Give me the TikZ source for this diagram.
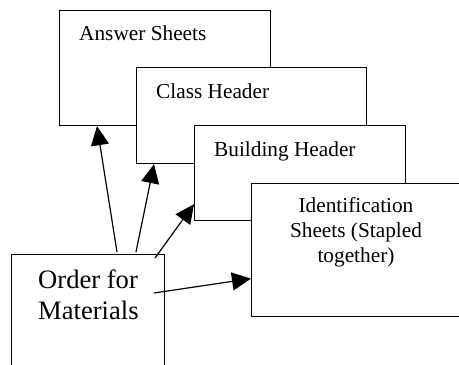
\documentclass[tikz,border=0pt]{standalone}
\usepackage{fontspec}
\setmainfont{Liberation Serif}
\usetikzlibrary{arrows.meta}
\begin{document}
\begin{tikzpicture}[x=1pt,y=-1pt,
  sheet/.style={draw,fill=white,line width=1.2pt,anchor=north west,inner sep=0pt},
  lbl/.style={inner sep=0pt,font=\fontsize{21.3}{25}\selectfont},
  biglbl/.style={inner sep=0pt,font=\fontsize{26.6}{31}\selectfont},
  link/.style={line width=1.2pt,-{Triangle[length=19pt,width=18pt]}}]
\useasboundingbox (0,0) rectangle (459,365);
\clip (0,0) rectangle (459,365);
\node[sheet,minimum width=211pt,minimum height=115pt] (a) at (59,10) {};
\node[lbl,anchor=base west] (ta) at (79,40) {Answer Sheets};
\node[sheet,minimum width=230pt,minimum height=96pt] (c) at (136,67) {};
\node[lbl,anchor=base west] (tc) at (156,98) {Class Header};
\node[sheet,minimum width=211pt,minimum height=95pt] (b) at (194,125) {};
\node[lbl,anchor=base west] (tb) at (214,156) {Building Header};
\node[sheet,minimum width=260pt,minimum height=133pt] (i) at (251,183) {};
\node[lbl,anchor=base,align=center] (ti) at (356,262) {Identification\\Sheets (Stapled\\together)};
\node[sheet,minimum width=153pt,minimum height=160pt] (o) at (11,254) {};
\node[biglbl,anchor=base west,align=left] (to) at (38,319) {Order for\\Materials};
\draw[link] ([xshift=106pt,yshift=2pt]o.north west) -- ([xshift=38pt]a.south west);
\draw[link] ([xshift=125pt,yshift=2pt]o.north west) -- ([xshift=18pt]c.south west);
\draw[link] ([xshift=144pt,yshift=-4pt]o.north west) -- ([yshift=17pt]b.south west);
\draw[link] ([xshift=143pt,yshift=-39pt]o.north west) -- ([yshift=-28.5pt]i.west);
\end{tikzpicture}
\end{document}
